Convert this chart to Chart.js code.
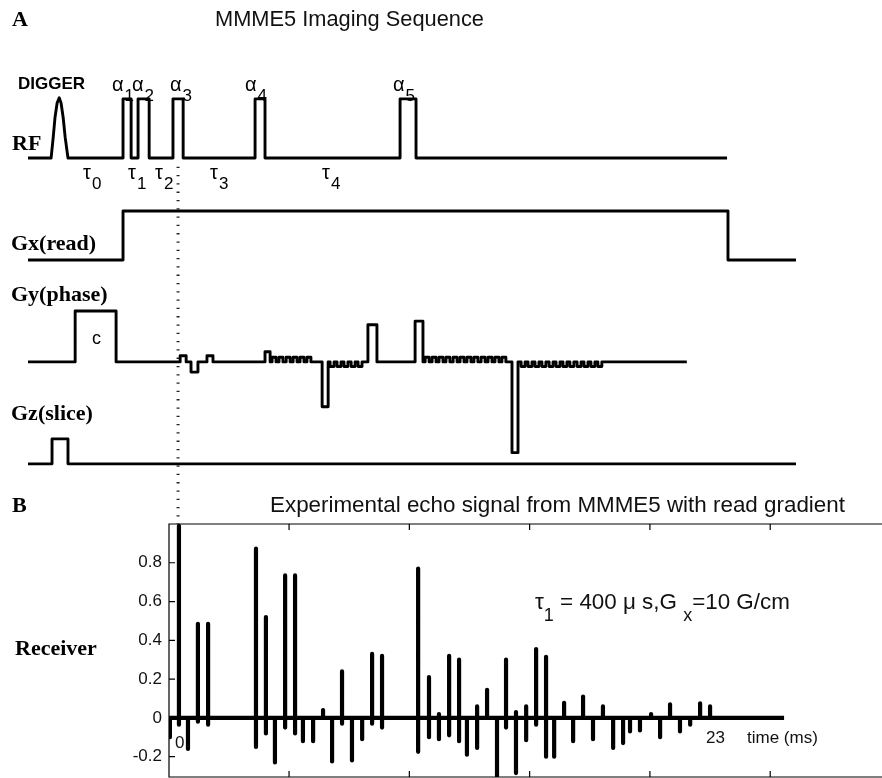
<!DOCTYPE html>
<html>
<head>
<meta charset="utf-8">
<title>MMME5 Imaging Sequence</title>
<script src="https://cdn.jsdelivr.net/npm/chart.js@4.4.1/dist/chart.umd.min.js"></script>
<style>
  html, body { margin: 0; padding: 0; background: #fff; }
  body { width: 882px; height: 778px; overflow: hidden; position: relative; }
  canvas { position: absolute; left: 0; }
  #seq { top: 0; }
  #echo { top: 500px; }
  .lbl { position: absolute; white-space: nowrap; line-height: 1; color: #000; }
  .serif { font-family: "Liberation Serif", "Times New Roman", serif; font-weight: bold; font-size: 22px; }
  .sans { font-family: "Liberation Sans", Arial, Helvetica, sans-serif; }
  .title { font-size: 22px; color: #111; }
  .greek { font-size: 20px; }
  .greek sub { font-size: 17px; line-height: 1; vertical-align: -10px; margin-left: 1px; }
  .note { font-size: 22.4px; color: #111; }
  .note sub { font-size: 18px; line-height: 1; vertical-align: -12px; }
  .small { font-size: 17px; color: #111; }
</style>
</head>
<body>
<canvas id="seq" width="882" height="524"></canvas>
<canvas id="echo" width="940" height="300"></canvas>

<div class="lbl serif" style="left:12px;top:8px">A</div>
<div class="lbl sans title" style="left:215px;top:8px;font-size:21.8px">MMME5 Imaging Sequence</div>
<div class="lbl sans" style="left:18px;top:75px;font-size:17px;font-weight:bold">DIGGER</div>
<div class="lbl serif" style="left:12px;top:132px">RF</div>
<div class="lbl serif" style="left:11px;top:232px">Gx(read)</div>
<div class="lbl serif" style="left:11px;top:283px">Gy(phase)</div>
<div class="lbl serif" style="left:11px;top:402px">Gz(slice)</div>
<div class="lbl serif" style="left:12px;top:494px">B</div>
<div class="lbl serif" style="left:15px;top:637px">Receiver</div>

<div class="lbl sans greek" style="left:112px;top:74px">α<sub>1</sub></div>
<div class="lbl sans greek" style="left:132px;top:74px">α<sub>2</sub></div>
<div class="lbl sans greek" style="left:170px;top:74px">α<sub>3</sub></div>
<div class="lbl sans greek" style="left:245px;top:74px">α<sub>4</sub></div>
<div class="lbl sans greek" style="left:393px;top:74px">α<sub>5</sub></div>

<div class="lbl sans greek" style="left:83px;top:162px">τ<sub>0</sub></div>
<div class="lbl sans greek" style="left:128px;top:162px">τ<sub>1</sub></div>
<div class="lbl sans greek" style="left:155px;top:162px">τ<sub>2</sub></div>
<div class="lbl sans greek" style="left:210px;top:162px">τ<sub>3</sub></div>
<div class="lbl sans greek" style="left:322px;top:162px">τ<sub>4</sub></div>

<div class="lbl sans" style="left:92px;top:329px;font-size:18px">c</div>

<div class="lbl sans title" style="left:270px;top:494px;font-size:22.4px">Experimental echo signal from MMME5 with read gradient</div>
<div class="lbl sans note" style="left:535px;top:591px">τ<sub>1</sub> = 400 μ s,G <sub>x</sub>=10 G/cm</div>
<div class="lbl sans small" style="left:175px;top:734px">0</div>
<div class="lbl sans small" style="left:706px;top:729px">23</div>
<div class="lbl sans small" style="left:747px;top:729px">time (ms)</div>

<script>
/* global Chart */
// Times in ms, measured from the centre of the alpha3 pulse (= first echo).
const rfSpan = [-6.49, 23.74];
const rfPulseStart = [-2.38, -1.73, -0.22, 3.33, 9.60];
const rfPulseEnd = [-2.03, -1.25, 0.22, 3.76, 10.29];
const rfPulseAmp = [1.16, 1.16, 1.16, 1.16, 1.16];
const diggerTimes = [-5.49, -5.40, -5.32, -5.23, -5.14, -5.06, -4.97, -4.88, -4.76];
const diggerAmps = [0, 0.40, 0.80, 1.08, 1.18, 1.08, 0.80, 0.40, 0];

const gxSpan = [-6.49, 26.72];
const gxOnOff = [-2.38, 23.78];
const gxAmp = 0.96;

const gySpan = [-6.49, 22.0];
const gyLobeStart = [-4.45, 0.09, 0.56, 1.25, 3.76, 6.23, 8.21, 10.25, 14.44];
const gyLobeEnd = [-2.68, 0.35, 0.86, 1.51, 3.98, 6.49, 8.60, 10.59, 14.70];
const gyLobeAmp = [1.0, 0.12, -0.2, 0.12, 0.2, -0.88, 0.73, 0.8, -1.78];
const gyBlipsUpA = [4.15, 4.45, 4.76, 5.06, 5.36, 5.66];
const gyBlipsDownA = [6.66, 6.96, 7.26, 7.57, 7.87];
const gyBlipsUpB = [10.77, 11.07, 11.37, 11.67, 11.98, 12.28, 12.58, 12.88, 13.19, 13.49, 13.79, 14.09];
const gyBlipsDownB = [14.92, 15.22, 15.52, 15.82, 16.13, 16.43, 16.73, 17.03, 17.34, 17.64, 17.94, 18.24];
const gyBlipAmp = 0.09;

const gzSpan = [-6.49, 26.72];
const gzLobe = [-5.45, -4.76];
const gzAmp = 0.49;

const echoTimes = [-0.35, 0.04, 0.43, 0.86, 1.30, 3.37, 3.80, 4.19, 4.63, 5.06,
  5.40, 5.84, 6.27, 6.66, 7.09, 7.52, 7.96, 8.39, 8.82, 10.38,
  10.85, 11.28, 11.72, 12.15, 12.49, 12.93, 13.36, 13.79, 14.18, 14.61,
  15.05, 15.48, 15.91, 16.26, 16.69, 17.08, 17.51, 17.94, 18.37, 18.81,
  19.24, 19.54, 19.97, 20.45, 20.84, 21.27, 21.70, 22.14, 22.57, 23.00];
const echoPeaks = [0, 0.99, 0, 0.485, 0.485, 0.873, 0.52, 0, 0.735, 0.735,
  0, 0, 0.04, 0, 0.24, 0, 0, 0.33, 0.32, 0.77,
  0.21, 0.02, 0.32, 0.30, 0, 0.06, 0.145, 0, 0.30, 0.03,
  0.06, 0.355, 0.315, 0, 0.078, 0, 0.11, 0, 0.06, 0,
  0, 0, 0, 0.02, 0, 0.07, 0, 0, 0.075, 0.06];
const echoDips = [-0.10, -0.035, -0.16, -0.02, -0.035, -0.15, -0.08, -0.23, -0.05, -0.08,
  -0.12, -0.12, 0, -0.225, -0.03, -0.22, -0.11, -0.03, -0.05, -0.175,
  -0.10, -0.11, -0.09, -0.12, -0.19, -0.155, 0, -0.30, -0.05, -0.285,
  -0.115, -0.035, -0.20, -0.20, 0, -0.12, 0, -0.11, 0, -0.155,
  -0.13, -0.07, -0.065, 0, -0.10, 0, -0.07, -0.035, 0, 0];
const echoTraceEnd = 26.2;

const receiverTicks = [-0.2, 0, 0.2, 0.4, 0.6, 0.8];
const timeTicks = [4.8, 10.0, 15.2, 20.4, 25.6, 30.8];

(function () {
  'use strict';

  const BASE = { rf: 6, gx: 4, gy: 2, gz: 0 };
  const BLIP_HALF = 0.085;

  // square lobes on a flat baseline -> polyline points
  function trace(base, span, lobes) {
    const pts = [{ x: span[0], y: base }];
    lobes
      .slice()
      .sort(function (a, b) { return a.s - b.s; })
      .forEach(function (l) {
        pts.push({ x: l.s, y: base }, { x: l.s, y: base + l.a }, { x: l.e, y: base + l.a }, { x: l.e, y: base });
      });
    pts.push({ x: span[1], y: base });
    return pts;
  }

  function blips(centres, amp) {
    return centres.map(function (c) {
      return { s: c - BLIP_HALF, e: c + BLIP_HALF, a: amp };
    });
  }

  function rfTrace() {
    const pts = [{ x: rfSpan[0], y: BASE.rf }];
    diggerTimes.forEach(function (t, i) {
      pts.push({ x: t, y: BASE.rf + diggerAmps[i] });
    });
    rfPulseStart.forEach(function (s, i) {
      const e = rfPulseEnd[i];
      const a = rfPulseAmp[i];
      pts.push({ x: s, y: BASE.rf }, { x: s, y: BASE.rf + a }, { x: e, y: BASE.rf + a }, { x: e, y: BASE.rf });
    });
    pts.push({ x: rfSpan[1], y: BASE.rf });
    return pts;
  }

  function gyTrace() {
    const lobes = gyLobeStart.map(function (s, i) {
      return { s: s, e: gyLobeEnd[i], a: gyLobeAmp[i] };
    })
      .concat(blips(gyBlipsUpA, gyBlipAmp))
      .concat(blips(gyBlipsDownA, -gyBlipAmp))
      .concat(blips(gyBlipsUpB, gyBlipAmp))
      .concat(blips(gyBlipsDownB, -gyBlipAmp));
    return trace(BASE.gy, gySpan, lobes);
  }

  function echoTrace() {
    const pts = [{ x: -0.39, y: 0 }];
    echoTimes.forEach(function (t, i) {
      pts.push({ x: t, y: 0 });
      if (echoPeaks[i]) pts.push({ x: t, y: echoPeaks[i] });
      if (echoDips[i]) pts.push({ x: t, y: echoDips[i] });
      pts.push({ x: t, y: 0 });
    });
    pts.push({ x: echoTraceEnd, y: 0 });
    return pts;
  }

  function wave(data, width) {
    return {
      data: data,
      borderColor: '#000',
      borderWidth: width,
      borderJoinStyle: 'round',
      borderCapStyle: 'butt',
      pointRadius: 0,
      tension: 0,
      fill: false,
    };
  }

  const common = {
    responsive: false,
    animation: false,
    events: [],
    plugins: { legend: { display: false }, tooltip: { enabled: false } },
  };

  new Chart(document.getElementById('seq'), {
    type: 'line',
    data: {
      datasets: [
        wave(rfTrace(), 2.9),
        wave(trace(BASE.gx, gxSpan, [{ s: gxOnOff[0], e: gxOnOff[1], a: gxAmp }]), 2.9),
        wave(gyTrace(), 2.9),
        wave(trace(BASE.gz, gzSpan, [{ s: gzLobe[0], e: gzLobe[1], a: gzAmp }]), 2.9),
        {
          // echo time origin, carried down to the receiver panel
          data: [{ x: 0, y: 5.83 }, { x: 0, y: -1.18 }],
          borderColor: '#222',
          borderWidth: 3,
          borderDash: [1.3, 7],
          borderCapStyle: 'butt',
          pointRadius: 0,
        },
      ],
    },
    options: Object.assign({}, common, {
      layout: { padding: 0 },
      scales: {
        x: { type: 'linear', display: false, min: -7.70, max: 30.44 },
        y: { display: false, min: -1.18, max: 9.1 },
      },
    }),
  });

  const frameAndTicks = {
    id: 'frameAndTicks',
    afterDatasetsDraw: function (chart) {
      const ctx = chart.ctx;
      const a = chart.chartArea;
      const x = chart.scales.x;
      const y = chart.scales.y;
      ctx.save();
      ctx.strokeStyle = '#000';
      ctx.lineWidth = 1.2;
      ctx.beginPath();
      ctx.moveTo(a.right, a.top);
      ctx.lineTo(a.left, a.top);
      ctx.lineTo(a.left, a.bottom);
      ctx.lineTo(a.right, a.bottom);
      timeTicks.forEach(function (t) {
        const px = x.getPixelForValue(t);
        ctx.moveTo(px, a.top);
        ctx.lineTo(px, a.top + 6);
        ctx.moveTo(px, a.bottom);
        ctx.lineTo(px, a.bottom - 6);
      });
      receiverTicks.forEach(function (v) {
        const py = y.getPixelForValue(v);
        ctx.moveTo(a.left, py);
        ctx.lineTo(a.left + 6, py);
      });
      ctx.stroke();
      ctx.restore();
    },
  };

  new Chart(document.getElementById('echo'), {
    type: 'line',
    data: { datasets: [wave(echoTrace(), 4.2)] },
    options: Object.assign({}, common, {
      layout: { padding: { top: 24, bottom: 23, left: 0, right: 0 } },
      scales: {
        x: { type: 'linear', display: false, min: -0.39, max: 32.94 },
        y: {
          min: -0.305,
          max: 1.0,
          grid: { display: false, drawTicks: false },
          border: { display: false },
          afterBuildTicks: function (scale) {
            scale.ticks = receiverTicks.map(function (v) { return { value: v }; });
          },
          afterFit: function (scale) {
            scale.width = 169;
          },
          ticks: {
            color: '#111',
            padding: 7,
            font: { family: '"Liberation Sans", Arial, sans-serif', size: 17 },
            callback: function (v) {
              return v === 0 ? '0' : v.toFixed(1);
            },
          },
        },
      },
    }),
    plugins: [frameAndTicks],
  });
})();
</script>
</body>
</html>
